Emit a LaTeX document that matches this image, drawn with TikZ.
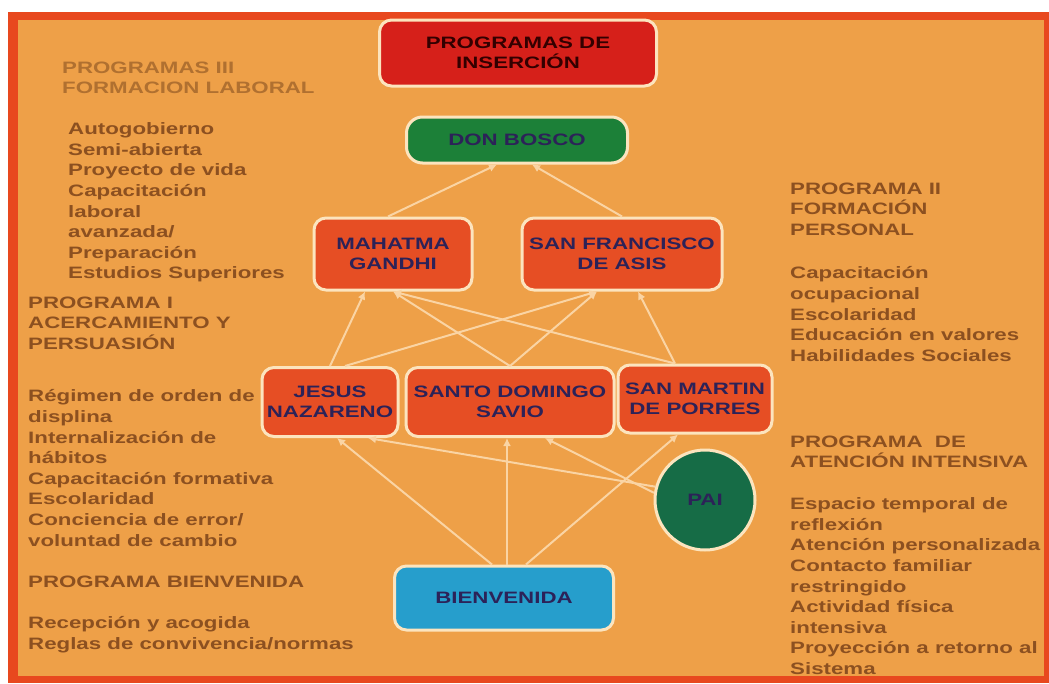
\documentclass[tikz,border=0pt]{standalone}
\usepackage{fontspec}
\usepackage{tikz}
\usetikzlibrary{arrows.meta,shapes.geometric}

\newfontfamily\diagfont[FakeStretch=1.35]{Liberation Sans}

\definecolor{bgcol}{RGB}{238,160,72}
\definecolor{framecol}{RGB}{232,72,30}
\definecolor{creamcol}{RGB}{252,228,190}
\definecolor{topcol}{RGB}{214,32,26}
\definecolor{boscocol}{RGB}{28,128,56}
\definecolor{paicol}{RGB}{22,108,70}
\definecolor{redbox}{RGB}{230,78,36}
\definecolor{bluecol}{RGB}{38,158,204}
\definecolor{navycol}{RGB}{44,34,88}
\definecolor{browncol}{RGB}{140,80,32}
\definecolor{lightbrown}{RGB}{176,112,48}
\definecolor{linkcol}{RGB}{250,212,164}

\tikzset{
  prog/.style={rounded corners=12pt, draw=creamcol, line width=3pt,
    align=center, text=navycol, inner sep=2pt,
    font=\diagfont\bfseries\fontsize{16.5}{20}\selectfont},
  side/.style={anchor=north west, align=left, text=browncol, inner sep=0pt,
    font=\diagfont\bfseries\fontsize{16.5}{20.6}\selectfont},
  link/.style={draw=linkcol, line width=2pt, -{Latex[length=8pt,width=8pt]}}
}

\begin{document}
\begin{tikzpicture}[x=1pt,y=-1pt]

  \useasboundingbox (0,0) rectangle (1049,683);
  \fill[white] (0,0) rectangle (1049,683);
  \fill[framecol] (8,12) rectangle (1049,683);
  \fill[bgcol] (18,20) rectangle (1044,676);

  %% program boxes
  \node[prog, fill=topcol, text=black!80!red, minimum width=277pt, minimum height=66pt]
    (insercion) at (518,53) {PROGRAMAS DE\\INSERCIÓN};
  \node[prog, fill=boscocol, rounded corners=16pt, minimum width=221pt, minimum height=46pt]
    (donbosco) at (517,140) {DON BOSCO};
  \node[prog, fill=redbox, minimum width=158pt, minimum height=72pt]
    (gandhi) at (393,254) {MAHATMA\\GANDHI};
  \node[prog, fill=redbox, minimum width=200pt, minimum height=72pt]
    (sanfran) at (622,254) {SAN FRANCISCO\\DE ASIS};
  \node[prog, fill=redbox, minimum width=136pt, minimum height=69pt]
    (jesus) at (330,402) {JESUS\\NAZARENO};
  \node[prog, fill=redbox, minimum width=208pt, minimum height=69pt]
    (santo) at (510,402) {SANTO DOMINGO\\SAVIO};
  \node[prog, fill=redbox, minimum width=154pt, minimum height=68pt]
    (sanmartin) at (695,399) {SAN MARTIN\\DE PORRES};
  \node[prog, circle, fill=paicol, minimum size=100pt]
    (pai) at (705,500) {PAI};
  \node[prog, fill=bluecol, minimum width=219pt, minimum height=64pt]
    (bienvenida) at (504,598) {BIENVENIDA};

  %% links up to DON BOSCO
  \draw[link] ([xshift=-5pt]gandhi.north) -- ([xshift=-20pt]donbosco.south);
  \draw[link] (sanfran.north) -- ([xshift=15pt]donbosco.south);

  %% links up to GANDHI / SAN FRANCISCO
  \draw[link] (jesus.north) -- ([xshift=-28pt]gandhi.south);
  \draw[link] ([xshift=15pt]jesus.north) -- ([xshift=-25pt]sanfran.south);
  \draw[link] (santo.north) -- (gandhi.south);
  \draw[link] (santo.north) -- ([xshift=-25pt]sanfran.south);
  \draw[link] ([xshift=-20pt]sanmartin.north) -- (gandhi.south);
  \draw[link] ([xshift=-20pt]sanmartin.north) -- ([xshift=16pt]sanfran.south);

  %% links from BIENVENIDA and PAI
  \draw[link] ([xshift=-12pt]bienvenida.north) -- ([xshift=7pt]jesus.south);
  \draw[link] ([xshift=3pt]bienvenida.north) -- ([xshift=-3pt]santo.south);
  \draw[link] ([xshift=22pt]bienvenida.north) -- ([xshift=-17pt]sanmartin.south);
  \draw[link] (pai.165) -- ([xshift=38pt]jesus.south);
  \draw[link] (pai.172) -- ([xshift=35pt]santo.south);

  %% left column
  \node[side, text=lightbrown] (labhead) at (62,61.5) {PROGRAMAS III\\FORMACION LABORAL};
  \node[side] (labtext) at (68,122.5) {Autogobierno\\Semi-abierta\\Proyecto de vida\\Capacitación\\laboral\\avanzada/\\Preparación\\Estudios Superiores};
  \node[side] (acehead) at (28,296.5) {PROGRAMA I\\ACERCAMIENTO Y\\PERSUASIÓN};
  \node[side] (acetext) at (28,389.5) {Régimen de orden de\\displina\\Internalización de\\hábitos\\Capacitación formativa\\Escolaridad\\Conciencia de error/\\voluntad de cambio};
  \node[side] (bienhead) at (28,575.5) {PROGRAMA BIENVENIDA};
  \node[side] (bientext) at (28,616.5) {Recepción y acogida\\Reglas de convivencia/normas};

  %% right column
  \node[side] (perhead) at (790,182.5) {PROGRAMA II\\FORMACIÓN\\PERSONAL};
  \node[side] (pertext) at (790,266.5) {Capacitación\\ocupacional\\Escolaridad\\Educación en valores\\Habilidades Sociales};
  \node[side] (inthead) at (790,435.5) {PROGRAMA\ \ DE\\ATENCIÓN INTENSIVA};
  \node[side] (inttext) at (790,497.5) {Espacio temporal de\\reflexión\\Atención personalizada\\Contacto familiar\\restringido\\Actividad física\\intensiva\\Proyección a retorno al\\Sistema};

\end{tikzpicture}
\end{document}
